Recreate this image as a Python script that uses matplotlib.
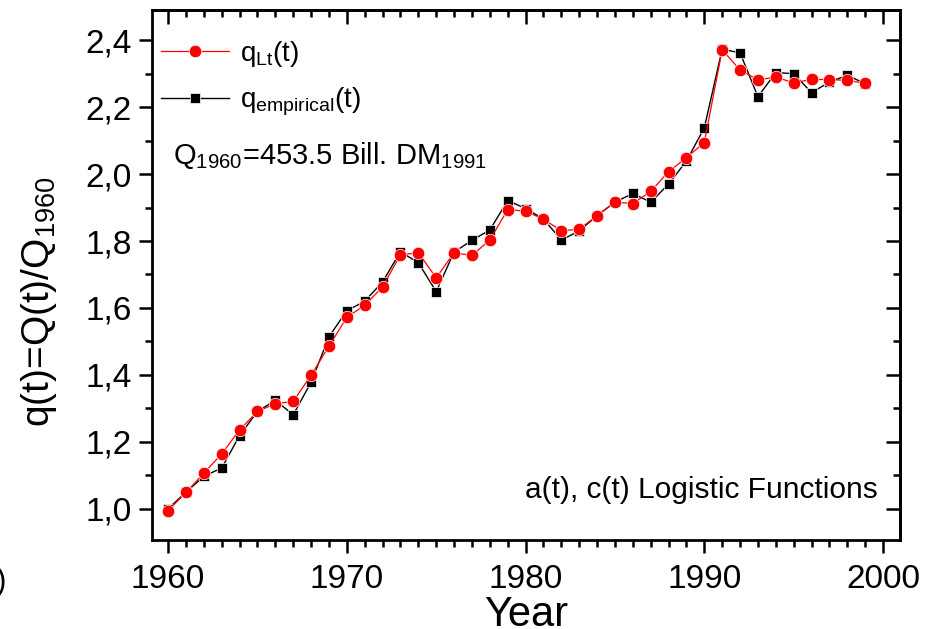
import numpy as np
import matplotlib.pyplot as plt
from matplotlib.ticker import MultipleLocator, FuncFormatter

plt.rcParams['font.family'] = ['Liberation Sans', 'DejaVu Sans']
plt.rcParams['mathtext.fontset'] = 'custom'
plt.rcParams['mathtext.rm'] = 'Liberation Sans'
plt.rcParams['mathtext.it'] = 'Liberation Sans:italic'

years = np.arange(1960, 2000)
q_lt = [0.995, 1.049, 1.107, 1.164, 1.236, 1.291, 1.314, 1.321, 1.399, 1.486,
        1.572, 1.608, 1.663, 1.759, 1.765, 1.690, 1.765, 1.757, 1.803, 1.894,
        1.889, 1.865, 1.831, 1.835, 1.876, 1.916, 1.912, 1.948, 2.007, 2.049,
        2.094, 2.371, 2.311, 2.281, 2.290, 2.272, 2.283, 2.282, 2.280, 2.271]
q_emp = [1.000, 1.050, 1.097, 1.122, 1.219, 1.291, 1.324, 1.281, 1.378, 1.514,
         1.592, 1.620, 1.678, 1.768, 1.735, 1.649, 1.767, 1.802, 1.833, 1.921,
         1.897, 1.866, 1.803, 1.830, 1.876, 1.916, 1.942, 1.916, 1.970, 2.039,
         2.138, 2.373, 2.362, 2.231, 2.303, 2.300, 2.243, 2.275, 2.295, 2.270]

fig = plt.figure(figsize=(9.32, 6.29), dpi=100)
ax = fig.add_axes([0.1631, 0.1415, 0.8026, 0.8426])

ax.plot(years, q_emp, '-', color='black', lw=1.0, marker='s', ms=7,
        mfc='black', mec='white', mew=0.5, label=r'q$_{\mathrm{empirical}}$(t)', zorder=2)
ax.plot(years, q_lt, '-', color='red', lw=0.9, marker='o', ms=9,
        mfc='red', mec='white', mew=0.5, label=r'q$_{\mathrm{Lt}}$(t)', zorder=3)

ax.set_xlim(1959.1, 2000.95)
ax.set_ylim(0.907, 2.49)
ax.xaxis.set_major_locator(MultipleLocator(10))
ax.xaxis.set_minor_locator(MultipleLocator(1))
ax.yaxis.set_major_locator(MultipleLocator(0.2))
ax.yaxis.set_minor_locator(MultipleLocator(0.1))
ax.yaxis.set_major_formatter(FuncFormatter(lambda v, p: f'{v:.1f}'.replace('.', ',')))

for s in ax.spines.values():
    s.set_linewidth(2.0)
ax.tick_params(which='both', direction='out', top=False, right=False, width=1.8,
               labelsize=24)
ax.tick_params(which='major', length=9.5)
ax.tick_params(which='minor', length=5)
ax.tick_params(axis='y', pad=5)
ax.tick_params(axis='x', pad=8)

top = ax.secondary_xaxis('top')
top.xaxis.set_major_locator(MultipleLocator(10))
top.xaxis.set_minor_locator(MultipleLocator(1))
top.tick_params(which='both', direction='in', width=1.8, labeltop=False)
top.tick_params(which='major', length=10)
top.tick_params(which='minor', length=5)
top.spines['top'].set_linewidth(2.0)

right = ax.secondary_yaxis('right')
right.yaxis.set_major_locator(MultipleLocator(0.2))
right.yaxis.set_minor_locator(MultipleLocator(0.1))
right.tick_params(which='both', direction='in', width=1.8, labelright=False)
right.tick_params(which='major', length=10)
right.tick_params(which='minor', length=5)
right.spines['right'].set_linewidth(2.0)

ax.set_xlabel('Year', fontsize=30, labelpad=0)
ax.set_ylabel(r'q(t)=Q(t)/Q$_{\mathrm{1960}}$', fontsize=28)
ax.yaxis.set_label_coords(-0.125, 0.45)

handles, labels = ax.get_legend_handles_labels()
ax.legend(handles[::-1], labels[::-1], loc='upper left', bbox_to_anchor=(0.012, 0.945),
          frameon=False, fontsize=20, handlelength=2.45, handletextpad=0.4,
          labelspacing=0.6, borderpad=0, borderaxespad=0, numpoints=1)

ax.text(0.028, 0.71, r'Q$_{\mathrm{1960}}$=453.5 Bill. DM$_{\mathrm{1991}}$',
        transform=ax.transAxes, fontsize=21, ha='left', va='baseline')
ax.text(0.97, 0.079, 'a(t), c(t) Logistic Functions', transform=ax.transAxes,
        fontsize=21.5, ha='right', va='baseline')

fig.text(0.008, 0.075, '0)', fontsize=22, ha='right', va='center')

fig.savefig('out.png', dpi=100)
